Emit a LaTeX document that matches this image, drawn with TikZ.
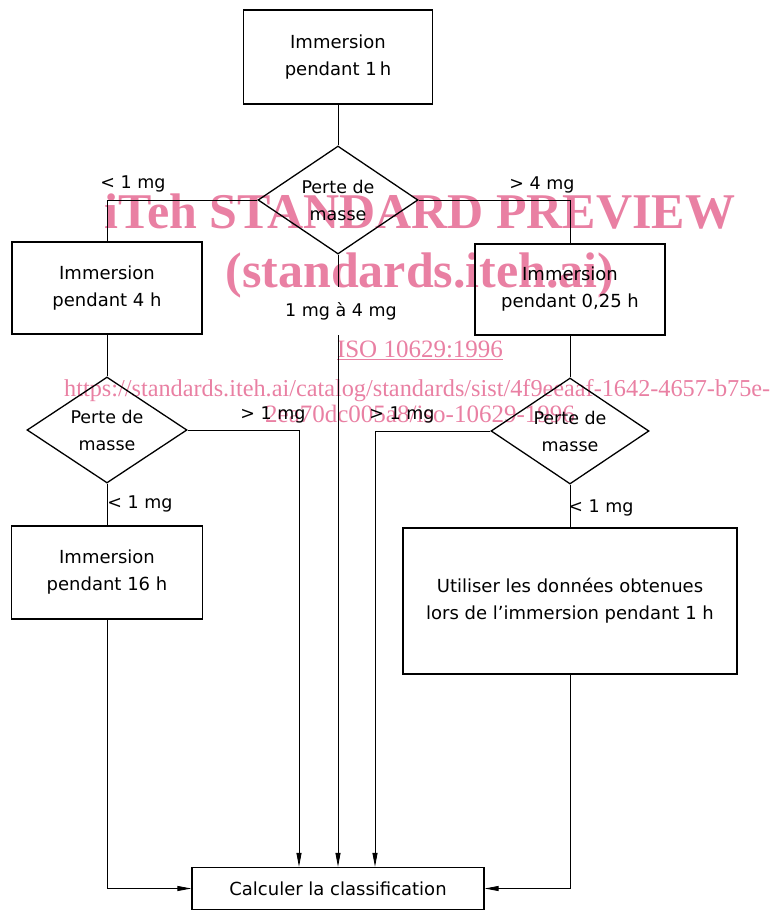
\documentclass[tikz,border=0pt]{standalone}
\usepackage{fontspec}
\setmainfont{DejaVu Sans}
\newfontfamily\wmfont{Liberation Serif}
\usetikzlibrary{shapes.geometric,arrows.meta}
\definecolor{wmpink}{RGB}{233,128,163}
\begin{document}
\begin{tikzpicture}[x=1pt,y=-1pt,
  box/.style={draw,line width=1.3pt,rectangle,align=center,inner sep=0pt,font=\fontsize{18}{27}\selectfont},
  dia/.style={draw,line width=1.3pt,diamond,aspect=1.5,inner sep=0pt,align=center,font=\fontsize{17.5}{27}\selectfont},
  conn/.style={line width=0.9pt},
  arr/.style={conn,-{Triangle[length=14pt,width=5pt]}},
  lbl/.style={font=\fontsize{17.5}{20}\selectfont,inner sep=1pt},
  wm/.style={text=wmpink,inner sep=0pt}
]
\useasboundingbox (0,0) rectangle (772,911);
% watermark (behind the drawing)
\node[wm,anchor=base,font=\wmfont\bfseries\fontsize{50}{50}\selectfont] (w1) at (420,228) {iTeh STANDARD PREVIEW};
\node[wm,anchor=base,font=\wmfont\bfseries\fontsize{50}{50}\selectfont] (w2) at (420,287) {(standards.iteh.ai)};
\node[wm,anchor=base,font=\wmfont\fontsize{25}{25}\selectfont] (w3) at (420,357) {\underline{ISO 10629:1996}};
\node[wm,anchor=base west,font=\wmfont\fontsize{25}{25}\selectfont] (w4) at (64,396) {\resizebox{706pt}{!}{https://standards.iteh.ai/catalog/standards/sist/4f9eeaaf-1642-4657-b75e-}};
\node[wm,anchor=base,font=\wmfont\fontsize{25}{25}\selectfont] (w5) at (420,422) {2ea70dc005a8/iso-10629-1996};
% boxes
\node[box,minimum width=189pt,minimum height=94pt] (b1) at (338,57) {Immersion\\pendant 1\,h};
\node[dia,minimum width=160pt,minimum height=108pt] (d1) at (338,200) {Perte de\\masse};
\node[box,minimum width=190pt,minimum height=92pt] (b2) at (107,288) {Immersion\\pendant 4 h};
\node[box,minimum width=190pt,minimum height=91pt] (b3) at (570,289.5) {Immersion\\pendant 0,25 h};
\node[dia,minimum width=160pt,minimum height=106pt] (d2) at (107,430) {Perte de\\masse};
\node[dia,minimum width=158pt,minimum height=106pt] (d3) at (570,431) {Perte de\\masse};
\node[box,minimum width=191pt,minimum height=93pt] (b4) at (107,572.5) {Immersion\\pendant 16 h};
\node[box,minimum width=334pt,minimum height=146pt] (b5) at (570,601) {Utiliser les données obtenues\\lors de l’immersion pendant 1 h};
\node[box,minimum width=292pt,minimum height=42pt] (calc) at (338,888.5) {Calculer la classification};
% labels
\node[lbl,minimum height=48pt] (lc) at (341,311) {1 mg à 4 mg};
\node[lbl] (l1) at (133,184) {< 1 mg};
\node[lbl] (l2) at (542,185) {> 4 mg};
\node[lbl] (l3) at (273,415) {> 1 mg};
\node[lbl] (l4) at (402,415) {> 1 mg};
\node[lbl] (l5) at (140,504) {< 1 mg};
\node[lbl] (l6) at (601,508) {< 1 mg};
% connectors
\draw[conn] (b1) -- (d1);
\draw[conn] (d1.west) -| (b2.north);
\draw[conn] (d1.east) -| (b3.north);
\draw[conn] (d1.south) -- (d1.south |- lc.north);
\draw[arr] (d1.south |- lc.south) -- (calc.north);
\draw[conn] (b2) -- (d2);
\draw[conn] (b3) -- (d3);
\draw[arr] (d2.east) -| ([xshift=-39pt]calc.north);
\draw[arr] (d3.west) -| ([xshift=37pt]calc.north);
\draw[conn] (d2) -- (b4);
\draw[conn] (d3) -- (b5);
\draw[arr] (b4.south) |- (calc.west);
\draw[arr] (b5.south) |- (calc.east);
\end{tikzpicture}
\end{document}
